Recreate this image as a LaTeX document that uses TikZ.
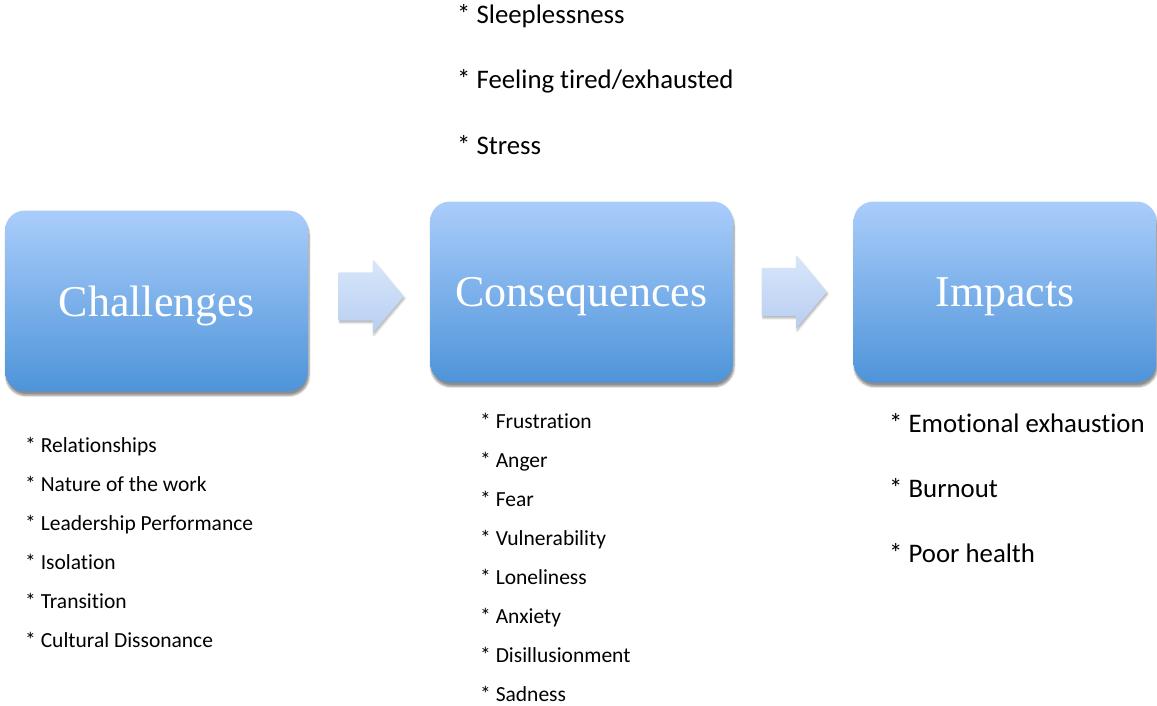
\documentclass[tikz,border=0pt]{standalone}
\usepackage{fontspec}
\setmainfont{Carlito}[Ligatures=NoCommon]
\newfontfamily\stagefont{Liberation Serif}
\usetikzlibrary{shapes.arrows, shadows.blur, calc}
\definecolor{stagetop}{RGB}{170,205,251}
\definecolor{stagebot}{RGB}{78,148,217}
\definecolor{flowtop}{RGB}{216,230,250}
\definecolor{flowbot}{RGB}{184,206,241}
\tikzstyle{stage} = [rectangle, rounded corners=20pt, 
minimum width=303pt, 
minimum height=181pt, 
top color=stagetop, 
bottom color=stagebot, 
text=white, 
text depth=0pt,
font=\stagefont\fontsize{44}{50}\selectfont,
blur shadow={shadow xshift=1pt, shadow yshift=-4pt, shadow blur steps=6, shadow opacity=45}]
\tikzstyle{flow} = [single arrow, 
inner sep=0pt, 
minimum height=65pt, 
single arrow head extend=12.5pt, 
single arrow tip angle=100, 
top color=flowtop, 
bottom color=flowbot,
blur shadow={shadow xshift=1pt, shadow yshift=-2pt, shadow blur steps=4, shadow opacity=30}]
\tikzstyle{item} = [anchor=base west, inner sep=0pt, font=\fontsize{21.5}{25}\selectfont]
\tikzstyle{bigitem} = [anchor=base west, inner sep=0pt, font=\fontsize{26.8}{31}\selectfont]

\begin{document}
\begin{tikzpicture}[x=1pt, y=-1pt]
	\useasboundingbox (0,0) rectangle (1157,706);
	
	\node (chal) [stage] at (156.5,301) {Challenges};
	\node (cons) [stage] at (581.5,292) {Consequences};
	\node (imp) [stage] at (1005,292) {Impacts};
	
	\node (flow1) [flow, xshift=-8pt] at ($(chal.east)!0.5!(cons.west)$) {\rule{0pt}{48pt}};
	\node (flow2) [flow, xshift=-9pt] at ($(cons.east)!0.5!(imp.west)$) {\rule{0pt}{48pt}};
	
	% lists
	\foreach \t [count=\i] in {Sleeplessness, Feeling tired/exhausted, Stress}
		\node (top\i) [bigitem] at (457,{24+65*(\i-1)}) {* \t};
	
	\foreach \t [count=\i] in {Relationships, Nature of the work, Leadership Performance, Isolation, Transition, Cultural Dissonance}
		\node (chal\i) [item] at (25,{452+39*(\i-1)}) {* \t};
	
	\foreach \t [count=\i] in {Frustration, Anger, Fear, Vulnerability, Loneliness, Anxiety, Disillusionment, Sadness}
		\node (cons\i) [item] at (480,{428+39*(\i-1)}) {* \t};
	
	\foreach \t [count=\i] in {Emotional exhaustion, Burnout, Poor health}
		\node (imp\i) [bigitem] at (889,{432+65*(\i-1)}) {* \t};
	
\end{tikzpicture}
\end{document}
